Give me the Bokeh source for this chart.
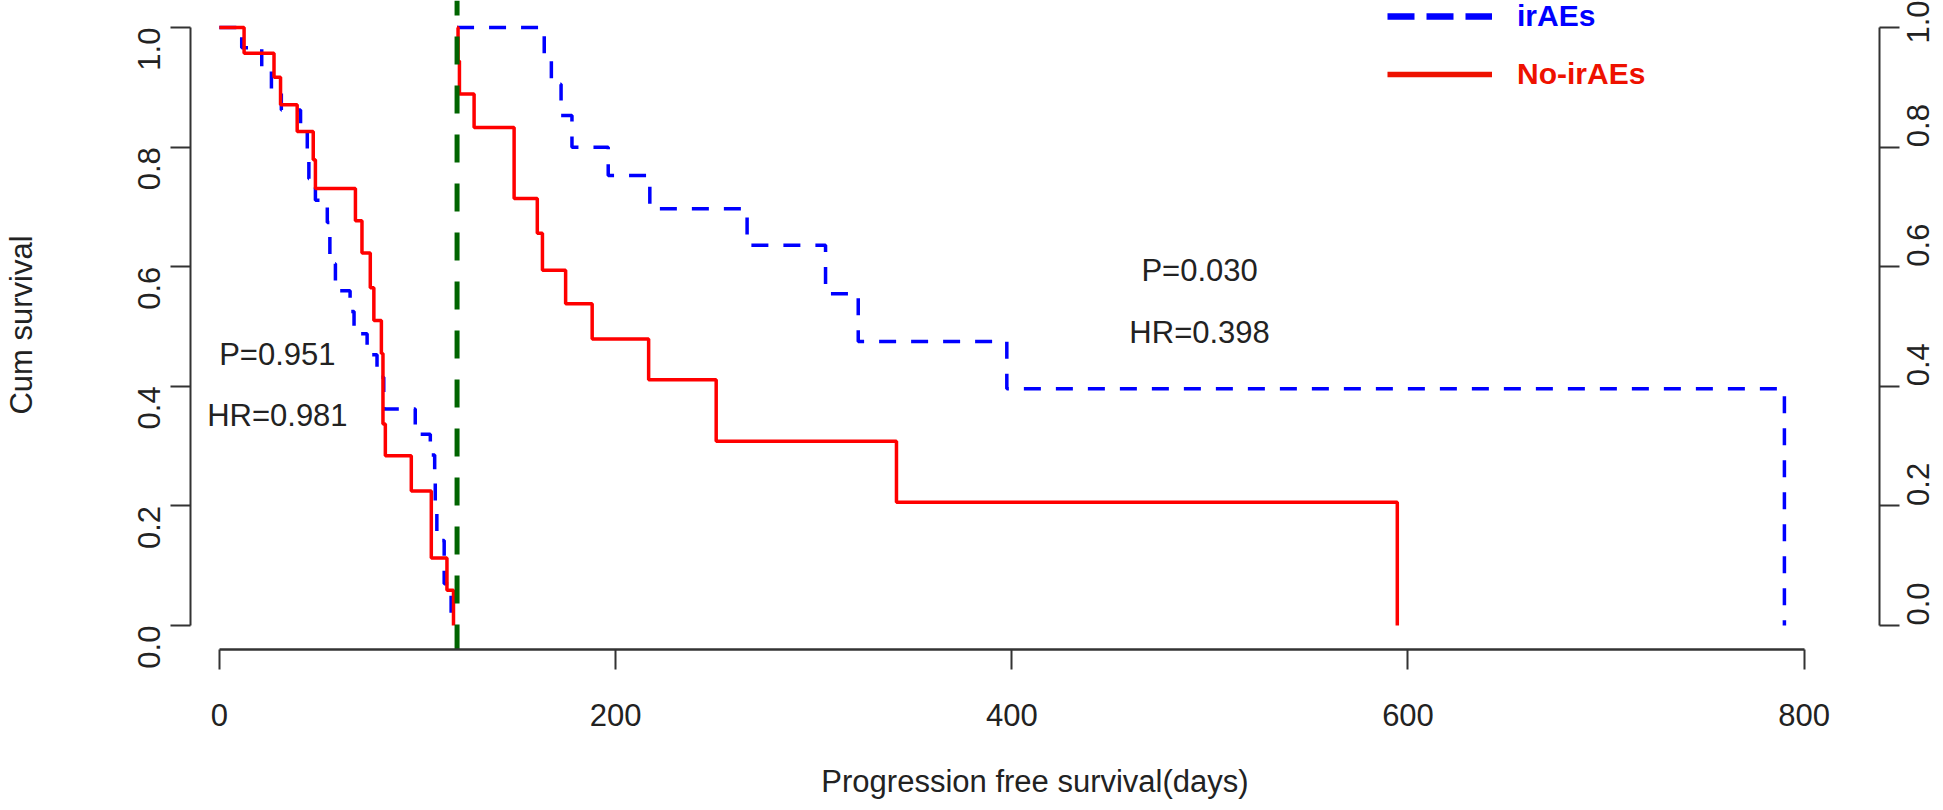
import math
from bokeh.plotting import figure
from bokeh.models import (Range1d, LinearAxis, FixedTicker, PrintfTickFormatter,
                          Label, Legend, LegendItem)
from bokeh.embed import file_html
from bokeh.resources import INLINE

# ---------------- data ----------------
# before the 120-day landmark
pre_irae_days = [0, 11.3, 21.4, 26.3, 31.3, 41.0, 44.4, 45.2, 48.5, 54.5, 55.8, 58.6,
                 66.0, 68.0, 74.6, 79.6, 83.0, 98.9, 106.5, 108.7, 109.0, 109.8, 113.5, 117.0]
pre_irae_surv = [1.0, 0.966, 0.931, 0.897, 0.862, 0.833, 0.783, 0.747, 0.711, 0.674, 0.605, 0.56,
                 0.525, 0.488, 0.453, 0.415, 0.362, 0.32, 0.285, 0.245, 0.204, 0.142, 0.07, 0.0]
pre_noirae_days = [0, 12.5, 27.6, 30.9, 39.3, 47.4, 48.5, 68.7, 72.0, 76.2, 78.0, 81.8,
                   82.6, 83.8, 96.9, 107.0, 114.9, 118.2]
pre_noirae_surv = [1.0, 0.957, 0.917, 0.871, 0.826, 0.779, 0.731, 0.677, 0.623, 0.565, 0.51, 0.455,
                   0.337, 0.284, 0.225, 0.113, 0.059, 0.0]
# after the 120-day landmark
post_irae_days = [120, 164.0, 167.6, 172.5, 178.0, 196.3, 217.3, 266.4, 306.0, 322.5, 397.5, 790.0]
post_irae_surv = [1.0, 0.95, 0.905, 0.853, 0.80, 0.7525, 0.697, 0.636, 0.555, 0.475, 0.396, 0.0]
post_noirae_days = [120, 120.5, 121.2, 128.6, 148.8, 160.5, 163.1, 174.8, 188.2, 216.7, 250.8, 341.8, 594.6]
post_noirae_surv = [1.0, 0.944, 0.889, 0.833, 0.714, 0.656, 0.594, 0.538, 0.479, 0.411, 0.308, 0.206, 0.0]

landmark_day = [120]
x_ticks = [0, 200, 400, 600, 800]
y_ticks = [0.0, 0.2, 0.4, 0.6, 0.8, 1.0]
group_names = ["irAEs", "No-irAEs"]
stat_texts_pre = ["P=0.951", "HR=0.981"]
stat_texts_post = ["P=0.030", "HR=0.398"]


def step_path(t, s):
    xs, ys = [t[0]], [s[0]]
    for i in range(1, len(t)):
        xs += [t[i], t[i]]
        ys += [s[i - 1], s[i]]
    return xs, ys


FONT = "Liberation Sans"
TXT = "#222222"
AX = "#333333"
BLUE = "#0000FF"
RED = "#FF0000"
LEG_RED = "#EE1100"

x_range = Range1d(-14.55, 838.0)
y_range = Range1d(-0.0401, 1.0452)

p = figure(width=1943, height=810, x_range=x_range, y_range=y_range,
           output_backend="svg", toolbar_location=None,
           x_axis_type=None, y_axis_type=None,
           min_border_left=188, min_border_right=62, min_border_top=0, min_border_bottom=161)
p.outline_line_color = None
p.background_fill_color = "white"
p.border_fill_color = "white"

# survival curves
blue_paths = [step_path(d, s) for d, s in [(pre_irae_days, pre_irae_surv), (post_irae_days, post_irae_surv)]]
red_paths = [step_path(d, s) for d, s in [(pre_noirae_days, pre_noirae_surv), (post_noirae_days, post_noirae_surv)]]
for xs, ys in blue_paths:
    p.line(xs, ys, line_color=BLUE, line_width=3.5, line_dash="17 15")
for xs, ys in red_paths:
    p.line(xs, ys, line_color=RED, line_width=3.5)

# landmark line
p.line([landmark_day[0], landmark_day[0]], [y_range.end, y_range.start],
       line_color="#006400", line_width=5, line_dash="28 21", line_dash_offset=13)

# axes
def style_axis(ax):
    ax.axis_line_color = AX
    ax.axis_line_width = 2
    ax.major_tick_line_color = AX
    ax.major_tick_line_width = 2
    ax.major_tick_out = 20
    ax.major_tick_in = 0
    ax.minor_tick_line_color = None
    ax.major_label_text_font = FONT
    ax.major_label_text_font_size = "31px"
    ax.major_label_text_color = TXT
    ax.axis_label_text_font = FONT
    ax.axis_label_text_font_size = "31px"
    ax.axis_label_text_font_style = "normal"
    ax.axis_label_text_color = TXT

yl = LinearAxis(ticker=FixedTicker(ticks=y_ticks, minor_ticks=[]),
                formatter=PrintfTickFormatter(format="%.1f"), bounds=(0, 1),
                axis_label="Cum survival")
style_axis(yl)
yl.major_label_orientation = math.pi / 2
yl.major_label_standoff = 21
yl.axis_label_standoff = 86
p.add_layout(yl, "left")

yr = LinearAxis(ticker=FixedTicker(ticks=y_ticks, minor_ticks=[]),
                formatter=PrintfTickFormatter(format="%.1f"), bounds=(0, 1))
style_axis(yr)
yr.major_label_orientation = math.pi / 2
yr.major_label_standoff = 19
p.add_layout(yr, "right")

xb = LinearAxis(ticker=FixedTicker(ticks=x_ticks, minor_ticks=[]),
                formatter=PrintfTickFormatter(format="%d"), bounds=(0, 800),
                axis_label="Progression free survival(days)")
style_axis(xb)
xb.axis_line_width = 2.5
xb.major_label_standoff = 34
xb.axis_label_standoff = 35
p.add_layout(xb, "below")

# statistics text
for txt, (x, y) in zip(stat_texts_pre, [(29.3, 0.453), (29.3, 0.351)]):
    p.add_layout(Label(x=x, y=y, text=txt, text_font=FONT, text_font_size="31px",
                       text_color=TXT, text_align="center", text_baseline="middle"))
for txt, (x, y) in zip(stat_texts_post, [(494.8, 0.594), (494.8, 0.49)]):
    p.add_layout(Label(x=x, y=y, text=txt, text_font=FONT, text_font_size="31px",
                       text_color=TXT, text_align="center", text_baseline="middle"))

# legend: hidden sample renderers carrying the legend's own line style
leg_blue = p.line(blue_paths[1][0], blue_paths[1][1], line_color=BLUE, line_width=6.5,
                  line_dash="27 12", visible=False)
leg_red = p.line(red_paths[1][0], red_paths[1][1], line_color=LEG_RED, line_width=5.5,
                 visible=False)


def make_legend(name, rend, color, loc):
    return Legend(items=[LegendItem(label=name, renderers=[rend])], location=loc,
                  orientation="vertical", glyph_width=105, glyph_height=34, label_height=34,
                  label_standoff=25, padding=0, margin=0, spacing=0,
                  border_line_color=None, background_fill_alpha=0,
                  inactive_fill_alpha=0, click_policy="none",
                  label_text_font=FONT, label_text_font_style="bold",
                  label_text_font_size="30px", label_text_color=color)


p.add_layout(make_legend(group_names[0], leg_blue, BLUE, (1197, 616)))
p.add_layout(make_legend(group_names[1], leg_red, LEG_RED, (1197, 558)))

open("out.html", "w").write(file_html(p, INLINE))
